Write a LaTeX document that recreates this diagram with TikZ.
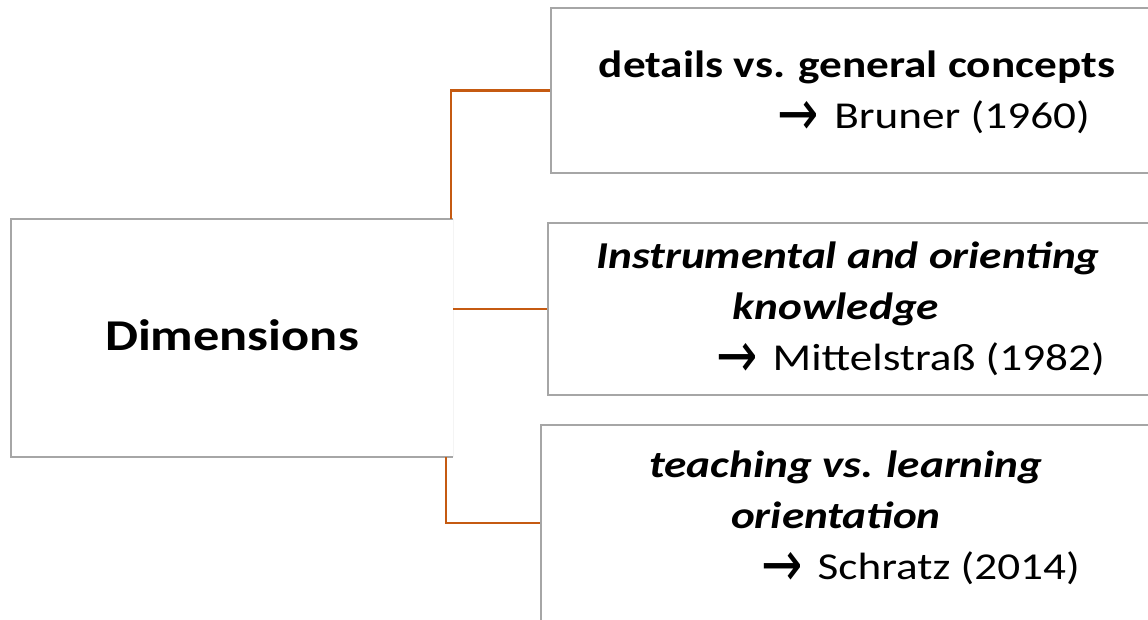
\documentclass[tikz,border=0pt]{standalone}
\usepackage{fontspec}
\setmainfont{Carlito}[FakeStretch=1.19]
\newfontfamily\arrowfont{DejaVu Sans}
\definecolor{boxgray}{HTML}{A6A6A6}
\definecolor{linkorange}{HTML}{C55A11}
% wide arrow used before each reference
\newcommand{\rarr}{\raisebox{-7pt}{\scalebox{1.3}[1.7]{\arrowfont →}}\hspace{0.4em}}
\begin{document}
\begin{tikzpicture}[x=1pt,y=-1pt,
  panel/.style={draw=boxgray, line width=1.6pt, fill=white, inner sep=0pt},
  link/.style={draw=linkorange, line width=2.4pt},
  line/.style={anchor=base, inner sep=0pt, font=\fontsize{38}{46}\selectfont},
  refline/.style={line, anchor=base east},
  head/.style={line, font=\fontsize{38}{46}\selectfont\bfseries},
  headit/.style={line, font=\fontsize{38}{46}\selectfont\bfseries\itshape},
]
\useasboundingbox (0,0) rectangle (1148,619);
\clip (0,0) rectangle (1148,619);
\fill[white] (0,0) rectangle (1148,619);

% root box, open on its right side
\node[minimum width=442pt, minimum height=238pt, inner sep=0pt] (dim) at (232,338) {};
\draw[boxgray, line width=1.6pt] (dim.north east) -- (dim.north west) -- (dim.south west) -- (dim.south east);
\draw[boxgray!12, line width=1pt] (dim.north east) -- (dim.south east);
\node[anchor=base, inner sep=0pt, font=\fontsize{44}{52}\selectfont\bfseries] (dimtxt) at (232,350) {Dimensions};

% the three dimension boxes (running past the right edge)
\node[panel, minimum width=609pt, minimum height=165pt] (b1) at (855.5,90.5) {};
\node[panel, minimum width=612pt, minimum height=172pt] (b2) at (854,309) {};
\node[panel, minimum width=619pt, minimum height=196pt] (b3) at (850.5,523) {};

% connectors
\draw[link] ([xshift=-2pt]dim.north east) |- (b1.west);
\draw[link] (dim.east |- b2.west) -- (b2.west);
\draw[link] ([xshift=-7pt]dim.south east) |- (b3.west);

% box texts
\node[head] (t1a) at (857,77) {details vs. general concepts};
\node[refline] (t1b) at (1090,128) {\rarr Bruner (1960)};

\node[headit] (t2a) at (848,268) {Instrumental and orienting};
\node[headit] (t2b) at (836,319) {knowledge};
\node[refline] (t2c) at (1105,370) {\rarr Mittelstraß (1982)};

\node[headit] (t3a) at (846,477) {teaching vs. learning};
\node[headit] (t3b) at (836,528) {orientation};
\node[refline] (t3c) at (1080,579) {\rarr Schratz (2014)};
\end{tikzpicture}
\end{document}
